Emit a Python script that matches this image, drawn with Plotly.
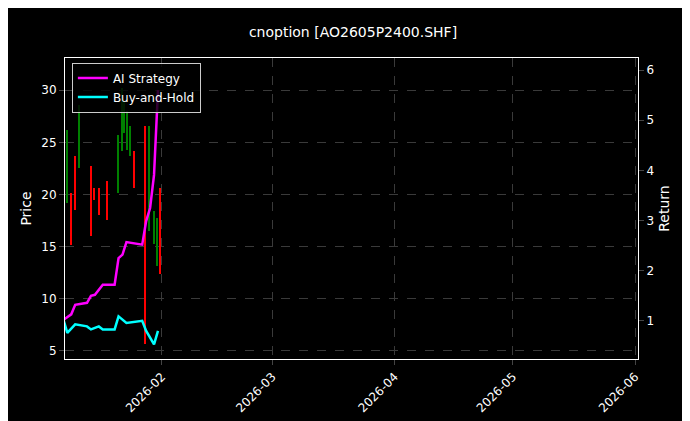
import plotly.graph_objects as go

candle_dates = ["2026-01-08 00:00","2026-01-09 00:00","2026-01-10 00:00","2026-01-11 00:00",
                "2026-01-14 00:00","2026-01-14 18:00","2026-01-16 00:00","2026-01-18 00:00",
                "2026-01-21 00:00","2026-01-22 00:00","2026-01-22 12:00","2026-01-23 06:00",
                "2026-01-24 00:00","2026-01-25 00:00","2026-01-27 18:00","2026-01-28 18:00",
                "2026-01-30 00:00","2026-01-30 18:00","2026-01-31 12:00"]
opens  = [19.2,20.1,23.7,22.5,22.7,20.6,20.6,21.3,20.1,24.2,25.9,24.3,23.7,24.2,26.6,16.5,15.2,13.1,20.6]
closes = [26.2,15.1,18.5,28.6,16.0,19.5,18.0,17.5,25.7,30.2,29.0,28.0,26.6,20.6,5.6,26.6,18.4,17.7,12.4]
highs  = [max(o,c) for o,c in zip(opens,closes)]
lows   = [min(o,c) for o,c in zip(opens,closes)]

ai_dates = ["2026-01-07","2026-01-09","2026-01-10","2026-01-13","2026-01-14","2026-01-15","2026-01-17",
            "2026-01-20","2026-01-21","2026-01-22","2026-01-23","2026-01-27","2026-01-28","2026-01-29",
            "2026-01-30","2026-01-31"]
ai_ret = [1.02,1.13,1.32,1.36,1.50,1.52,1.72,1.72,2.25,2.32,2.57,2.52,2.99,3.25,3.91,5.6]
bh_dates = ["2026-01-07","2026-01-08","2026-01-10","2026-01-13","2026-01-14","2026-01-16","2026-01-17",
            "2026-01-20","2026-01-21","2026-01-23","2026-01-27","2026-01-28","2026-01-30","2026-01-31"]
bh_ret = [1.03,0.76,0.93,0.89,0.83,0.89,0.83,0.83,1.09,0.96,1.0,0.80,0.53,0.80]

fig = go.Figure()
for inc, col in [(True, "green"), (False, "red")]:
    idx = [i for i in range(len(opens)) if (closes[i] >= opens[i]) == inc]
    fig.add_trace(go.Bar(x=[candle_dates[i] for i in idx],
                         y=[highs[i] - lows[i] for i in idx],
                         base=[lows[i] for i in idx],
                         width=[0.35 * 86400000] * len(idx),
                         marker=dict(color=col, line=dict(width=0)), showlegend=False))
fig.add_trace(go.Scatter(x=ai_dates, y=ai_ret, mode="lines", name="AI Strategy",
    line=dict(color="#ff00ff", width=2.5), yaxis="y2"))
fig.add_trace(go.Scatter(x=bh_dates, y=bh_ret, mode="lines", name="Buy-and-Hold",
    line=dict(color="#00ffff", width=2.5), yaxis="y2"))

grid = dict(showgrid=True, gridcolor="#3a3a3a", griddash="dash", gridwidth=0.5)
fig.update_layout(
    width=690, height=421, paper_bgcolor="black", plot_bgcolor="black",
    font=dict(family="DejaVu Sans", color="white", size=12),
    margin=dict(l=57, r=60, t=50, b=70, autoexpand=False), bargap=0,
    title=dict(text="cnoption [AO2605P2400.SHF]", x=0.5, xanchor="center", y=0.955, font=dict(size=14)),
    xaxis=dict(type="date", range=["2026-01-07 10:00","2026-06-01 18:00"], automargin=False,
               tickvals=["2026-02-01","2026-03-01","2026-04-01","2026-05-01","2026-06-01"],
               ticktext=["2026-02","2026-03","2026-04","2026-05","2026-06"], tickangle=-45,
               ticks="outside", linecolor="white", mirror=True, showline=True, **grid),
    yaxis=dict(title=dict(text="Price", standoff=6), range=[4.2, 33.1], tickvals=[5,10,15,20,25,30], ticks="outside",
               automargin=False, linecolor="white", showline=True, mirror=True, zeroline=False, **grid),
    yaxis2=dict(title=dict(text="Return", standoff=6), overlaying="y", side="right", range=[0.24, 6.24], tickvals=[1,2,3,4,5,6],
                automargin=False, ticks="outside", showgrid=False, zeroline=False, linecolor="white", showline=True),
    legend=dict(x=0.012, y=0.985, xanchor="left", yanchor="top", bgcolor="rgba(0,0,0,0.8)",
                bordercolor="#ccc", borderwidth=1, font=dict(size=12)),
)
fig.write_html("out.html")
